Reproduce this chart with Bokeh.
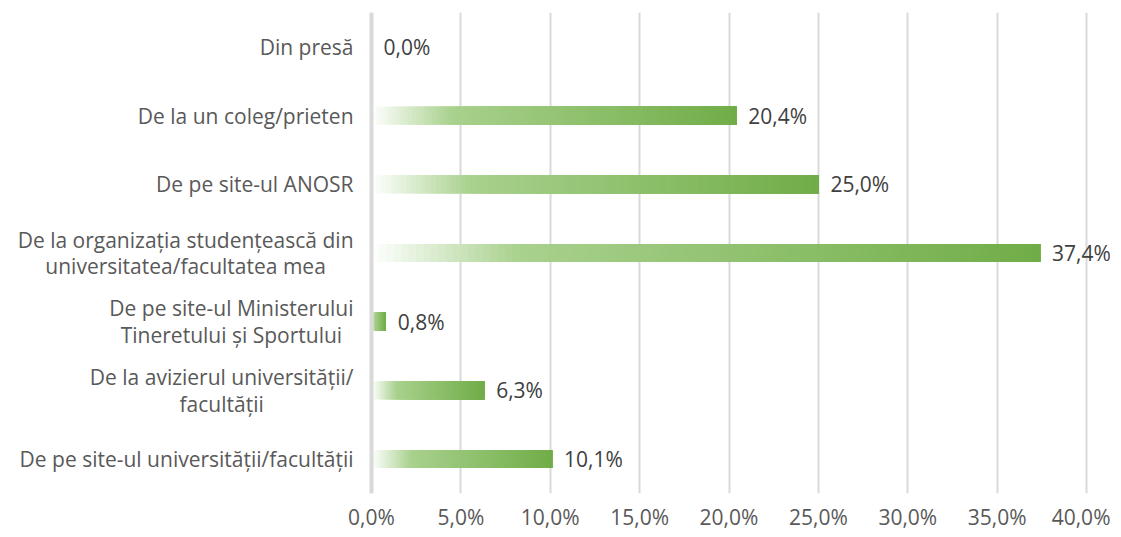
from bokeh.plotting import figure
from bokeh.models import ColumnDataSource, FactorRange, Range1d, FixedTicker, Span
from bokeh.core.properties import value
from bokeh.embed import file_html
from bokeh.resources import INLINE

categories = [
    "Din presă",
    "De la un coleg/prieten",
    "De pe site-ul ANOSR",
    "De la organizația studențească din\nuniversitatea/facultatea mea",
    "De pe site-ul Ministerului\nTineretului și Sportului",
    "De la avizierul universității/\nfacultății",
    "De pe site-ul universității/facultății",
]
values = [0.0, 20.4, 25.0, 37.4, 0.8, 6.3, 10.1]
x_ticks = [0, 5, 10, 15, 20, 25, 30, 35, 40]

FONT = "Open Sans"
TEXT_COLOR = "#595959"

def fmt(v):
    return f"{v:.1f}%".replace(".", ",")

def grad(t):
    w = (255, 255, 255)
    a = (169, 209, 142)
    b = (112, 173, 71)
    s = 0.22
    if t < s:
        f = t / s
        c = [w[k] + (a[k] - w[k]) * f for k in range(3)]
    else:
        f = (t - s) / (1 - s)
        c = [a[k] + (b[k] - a[k]) * f for k in range(3)]
    return "#%02x%02x%02x" % tuple(int(round(x)) for x in c)

N = 90
seg = dict(y=[], left=[], right=[], color=[])
for c, v in zip(categories, values):
    if v <= 0:
        continue
    for i in range(N):
        seg["y"].append(c)
        seg["left"].append(v * i / N)
        seg["right"].append(v)
        seg["color"].append(grad((i + 0.5) / N))
seg_src = ColumnDataSource(seg)

lab_src = ColumnDataSource(dict(
    y=categories,
    x=values,
    zero=[0] * len(categories),
    txt=[fmt(v) for v in values],
    cat=categories,
))

p = figure(
    width=1110, height=533,
    y_range=FactorRange(*reversed(categories)),
    x_range=Range1d(-20.755, 41.34),
    output_backend="svg", toolbar_location=None,
    y_axis_location=None,
    min_border_left=0, min_border_right=0, min_border_top=12, min_border_bottom=0,
)
p.outline_line_color = None
p.background_fill_color = "white"

p.xaxis.ticker = FixedTicker(ticks=x_ticks)
p.xaxis.major_label_overrides = {t: fmt(t) for t in x_ticks}
p.xaxis.axis_line_color = None
p.xaxis.major_tick_line_color = None
p.xaxis.minor_tick_line_color = None
p.xaxis.major_label_text_font = FONT
p.xaxis.major_label_text_font_size = "21px"
p.xaxis.major_label_text_color = TEXT_COLOR
p.xaxis.major_label_standoff = 3

p.xgrid.ticker = FixedTicker(ticks=x_ticks)
p.xgrid.grid_line_color = "#D9D9D9"
p.xgrid.grid_line_width = 2
p.ygrid.grid_line_color = None

p.add_layout(Span(location=0, dimension="height", line_color="#D9D9D9", line_width=4))

p.hbar(y="y", left="left", right="right", height=0.26, source=seg_src,
       fill_color="color", line_color=None)

p.text(x="x", y="y", text="txt", source=lab_src, x_offset=12,
       text_font=value(FONT), text_font_size="21px", text_color="#404040",
       text_align="left", text_baseline="middle")

p.text(x="zero", y="y", text="cat", source=lab_src, x_offset=-18,
       anchor="center_right", text_align="center",
       text_font=value(FONT), text_font_size="21px", text_color=TEXT_COLOR,
       text_line_height=0.95)

open("out.html", "w").write(file_html(p, INLINE))
